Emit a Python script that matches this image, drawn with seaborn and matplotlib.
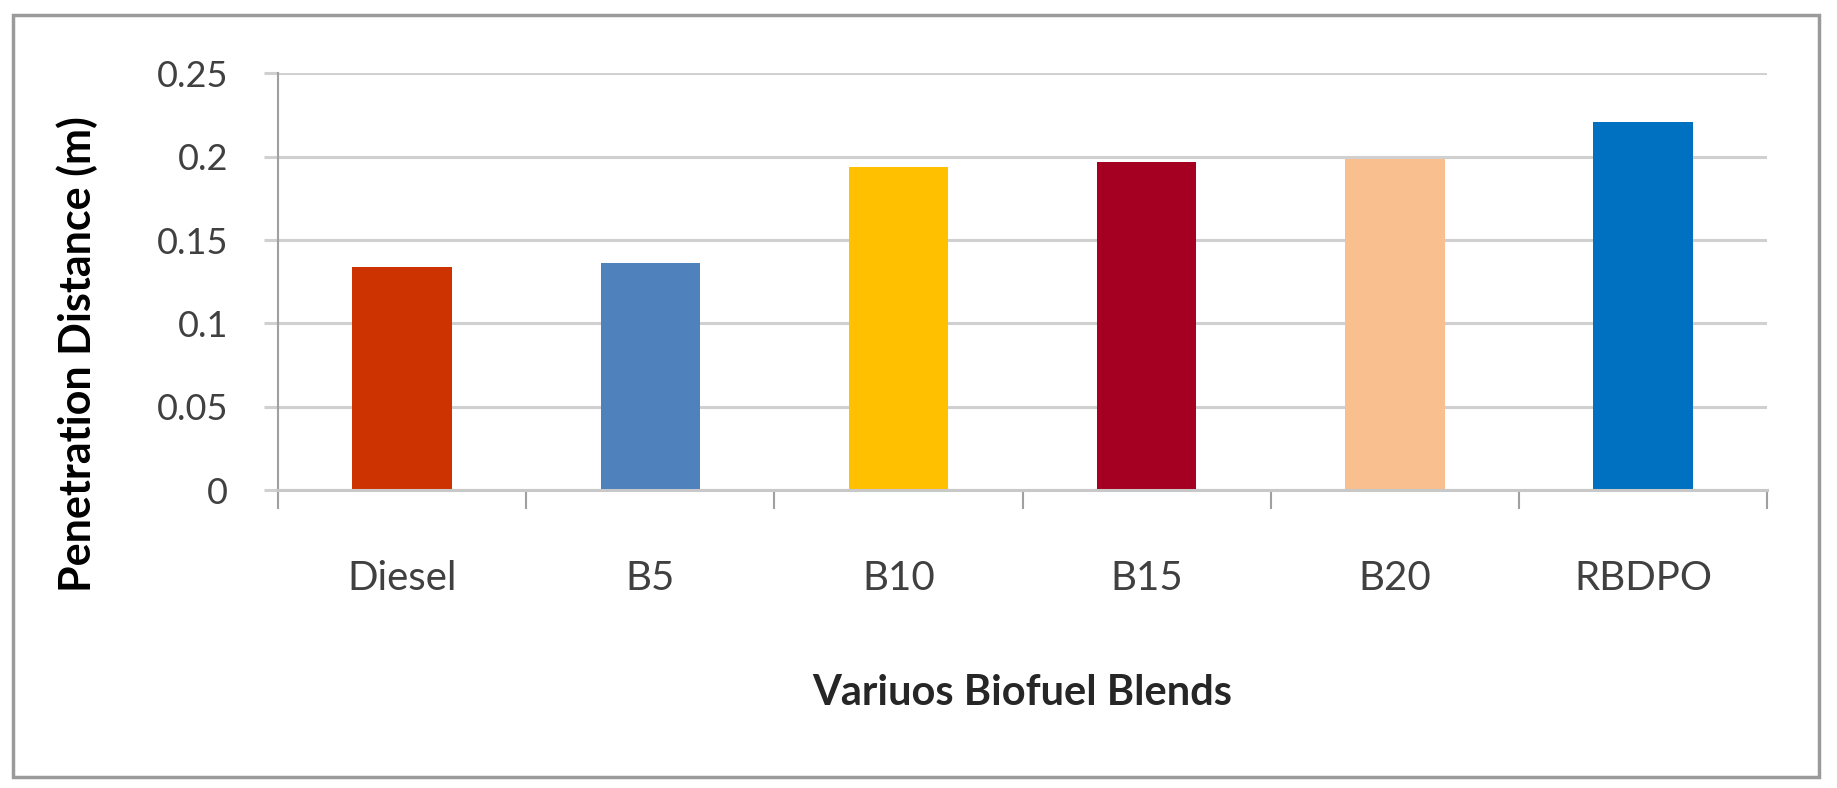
import matplotlib
matplotlib.use("Agg")
import matplotlib.pyplot as plt
import seaborn as sns
import pandas as pd
from matplotlib.patches import Rectangle

# data
blends = ["Diesel", "B5", "B10", "B15", "B20", "RBDPO"]
penetration = [0.1337, 0.1365, 0.1938, 0.1970, 0.1985, 0.2210]
bar_colors = ["#CC3300", "#4F81BD", "#FFC000", "#A50021", "#F9BF8F", "#0070C0"]
y_ticks = [0, 0.05, 0.1, 0.15, 0.2, 0.25]
y_tick_labels = ["0", "0.05", "0.1", "0.15", "0.2", "0.25"]

df = pd.DataFrame({"blend": blends, "distance": penetration})

sns.set_theme(style="white")
plt.rcParams["font.family"] = ["Lato", "DejaVu Sans"]

fig = plt.figure(figsize=(18.37, 7.88), dpi=100)
ax = fig.add_axes([0.1513, 0.378, 0.8107, 0.529])

sns.barplot(data=df, x="blend", y="distance", hue="blend",
            palette=bar_colors, width=0.4, legend=False, ax=ax,
            saturation=1, edgecolor="none")

ax.set_ylim(0, 0.25)
ax.set_xlim(-0.5, len(blends) - 0.5)
ax.set_yticks(y_ticks)
ax.set_yticklabels(y_tick_labels)
ax.yaxis.grid(True, color="#d0d0d0", linewidth=2.2)
ax.set_axisbelow(True)

# category boundary ticks on the x axis
ax.set_xticks([i + 0.5 for i in range(-1, len(blends))], minor=False)
ax.set_xticklabels([""] * (len(blends) + 1))
ax.set_xticks(range(len(blends)), minor=True)
ax.set_xticklabels(blends, minor=True)
ax.tick_params(axis="x", which="major", direction="out", length=14, width=1.5,
               color="#a0a0a0", bottom=True)
ax.tick_params(axis="x", which="minor", length=0, pad=50, labelsize=29,
               labelcolor="#404040")
ax.tick_params(axis="y", direction="out", length=10, width=2.2, color="#d0d0d0",
               left=True, pad=26, labelsize=26, labelcolor="#404040")

for side in ["top", "right"]:
    ax.spines[side].set_visible(False)
ax.spines["left"].set_color("#a0a0a0")
ax.spines["left"].set_linewidth(1.5)
ax.spines["bottom"].set_color("#c8c8c8")
ax.spines["bottom"].set_linewidth(2.2)

ax.set_xlabel("Variuos Biofuel Blends", fontsize=30, fontweight="bold",
              color="#262626")
ax.set_ylabel("Penetration Distance (m)", fontsize=31, fontweight="bold",
              color="black")
ax.yaxis.set_label_coords(-0.121, 0.326)
ax.xaxis.set_label_coords(0.5, -0.44)

# frame around the whole chart
fig.patches.append(Rectangle((13 / 1837, 1 - 777 / 788), (1819 - 13) / 1837,
                             (777 - 15) / 788, transform=fig.transFigure,
                             fill=False, edgecolor="#9a9a9a", linewidth=2.5))

fig.savefig("out.png", dpi=100)
